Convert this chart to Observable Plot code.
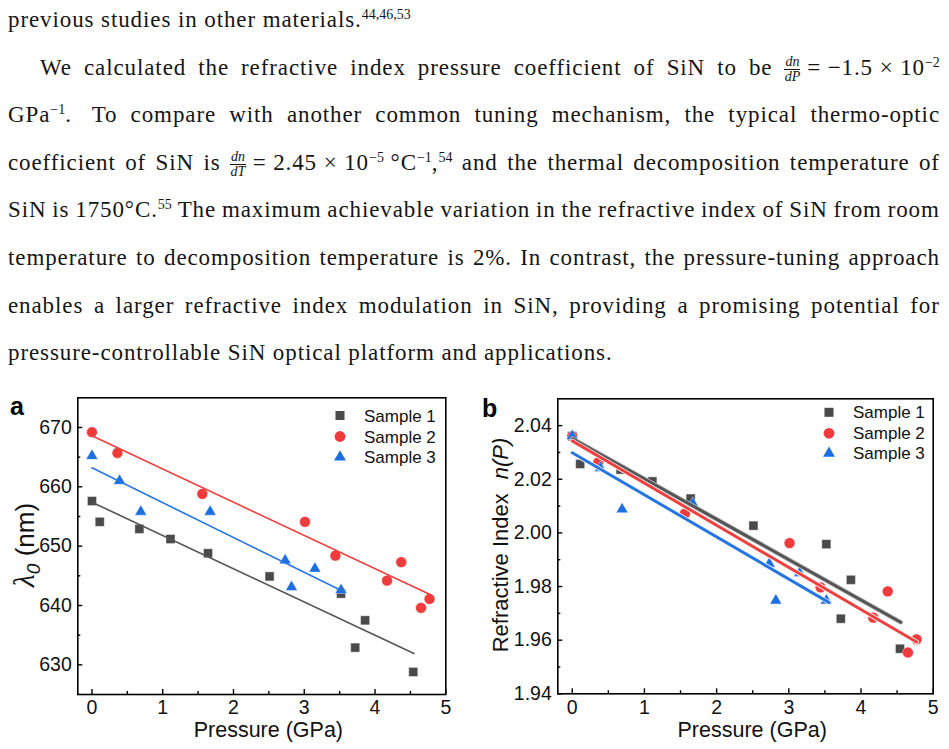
<!DOCTYPE html>
<html><head><meta charset="utf-8">
<script src="https://cdn.jsdelivr.net/npm/d3@7"></script>
<script src="https://cdn.jsdelivr.net/npm/@observablehq/plot@0.6"></script>
<style>
html,body{margin:0;padding:0;background:#fff;width:949px;height:749px;overflow:hidden;}
#text{position:absolute;left:8px;top:-4px;width:932px;font-family:"Liberation Serif","Times New Roman",serif;font-size:23px;color:#151515;letter-spacing:0.9px}
.ln{height:47.6px;line-height:47.6px;white-space:nowrap}
.j{display:flex;justify-content:space-between;align-items:center}
sup{font-size:14px;vertical-align:0.55em;line-height:0;letter-spacing:0}
.fr{display:inline-flex;flex-direction:column;vertical-align:middle;font-style:italic;font-size:14px;line-height:14px;text-align:center;letter-spacing:0}
.nu{border-bottom:1px solid #151515;padding:0 1px}
.panel{position:absolute;top:370px}
</style></head>
<body>
<div id="text"></div>
<div id="pa" class="panel" style="left:0px"></div>
<div id="pb" class="panel" style="left:470px"></div>
<script>
// ---------- data ----------
const series = ["Sample 1", "Sample 2", "Sample 3"];
const markColors = ["#4a4a4a", "#ef3b3b", "#1c6fe0"];
const lineColors = ["#555555", "#ef4040", "#2676e2"];
const symbols = ["square", "circle", "triangle"];
const radii = [5.1, 5.4, 4.4];

const xTicks = [0, 1, 2, 3, 4, 5];
const xMinor = [0.5, 1.5, 2.5, 3.5, 4.5];
const aYTicks = [630, 640, 650, 660, 670];
const aYMinor = [635, 645, 655, 665];
const bYTicks = [1.94, 1.96, 1.98, 2.00, 2.02, 2.04];
const bYMinor = [1.95, 1.97, 1.99, 2.01, 2.03];

// pressure (GPa)
const s1P = [0, 0.11, 0.67, 1.11, 1.64, 2.51, 3.52, 3.72, 3.86, 4.54];
const s2P = [0, 0.36, 1.56, 3.01, 3.44, 4.17, 4.37, 4.65, 4.77];
const s3P = [0, 0.39, 0.69, 1.67, 2.73, 2.82, 3.15, 3.52];
// panel a: resonance wavelength (nm)
const s1L = [657.6, 654.1, 652.9, 651.2, 648.8, 644.9, 642.0, 632.9, 637.5, 628.8];
const s2L = [669.2, 665.7, 658.8, 654.1, 648.4, 644.2, 647.3, 639.6, 641.1];
const s3L = [665.2, 661.0, 655.8, 655.8, 647.6, 643.1, 646.2, 642.6];
// panel b: refractive index
const s1N = [2.0361, 2.0257, 2.0236, 2.0192, 2.0128, 2.0027, 1.9958, 1.9680, 1.9825, 1.9568];
const s2N = [2.0360, 2.0263, 2.0072, 1.9962, 1.9797, 1.9684, 1.9782, 1.9554, 1.9603];
const s3N = [2.0361, 2.0242, 2.0088, 2.0109, 1.9885, 1.9748, 1.9850, 1.9748];
// linear fit end points
const fitP = [[0, 4.55], [0, 4.77], [0, 3.56]];
const fitA = [[657.4, 631.9], [668.6, 641.9], [663.2, 642.3]];
const fitB = [[2.0352, 1.9667], [2.0343, 1.9593], [2.0299, 1.9740]];

// ---------- paragraph ----------
const FR1 = '<span class="fr"><span class="nu">dn</span><span>dP</span></span>';
const FR2 = '<span class="fr"><span class="nu">dn</span><span>dT</span></span>';
const lines = [
  {t: "previous studies in other materials.<sup>44,46,53</sup>", j: false},
  {t: "We calculated the refractive index pressure coefficient of SiN to be FR1~=~−1.5~×~10<sup>−2</sup>", j: true, indent: 32},
  {t: "GPa<sup>−1</sup>.~ To compare with another common tuning mechanism, the typical thermo-optic", j: true},
  {t: "coefficient of SiN is FR2~=~2.45~×~10<sup>−5</sup>~°C<sup>−1</sup>,<sup>54</sup> and the thermal decomposition temperature of", j: true},
  {t: "SiN is 1750°C.<sup>55</sup> The maximum achievable variation in the refractive index of SiN from room", j: true},
  {t: "temperature to decomposition temperature is 2%. In contrast, the pressure-tuning approach", j: true},
  {t: "enables a larger refractive index modulation in SiN, providing a promising potential for", j: true},
  {t: "pressure-controllable SiN optical platform and applications.", j: false}
];
const textDiv = document.getElementById("text");
for (const l of lines) {
  const d = document.createElement("div");
  d.className = "ln" + (l.j ? " j" : "");
  if (l.indent) d.style.paddingLeft = l.indent + "px";
  if (l.j) {
    d.innerHTML = l.t.split(" ").map(w => "<span>" + w.replace("FR1", FR1).replace("FR2", FR2).replace(/~/g, "&nbsp;") + "</span>").join("");
  } else d.innerHTML = l.t;
  textDiv.appendChild(d);
}

// ---------- charts ----------
const sans = "'Liberation Sans', Arial, Helvetica, sans-serif";
function rows(P, V) { return P.map((p, i) => ({p, v: V[i]})); }
function fitRows(i, F) { return [{p: fitP[i][0], v: F[i][0]}, {p: fitP[i][1], v: F[i][1]}]; }

function panel(c) {
  const innerW = c.width - c.ml - c.mr, innerH = c.height - c.mt - c.mb;
  const marks = [
    Plot.axisX({ticks: xTicks, tickSize: 0, tickPadding: 6, label: null, tickFormat: d3.format("d")}),
    Plot.axisY({ticks: c.yTicks, tickSize: 0, tickPadding: 6, label: null, tickFormat: c.fmt}),
    Plot.tickX(xTicks, {x: d => d, insetTop: innerH - 5, stroke: "#000", strokeWidth: 1.4}),
    Plot.tickX(xMinor, {x: d => d, insetTop: innerH - 3, stroke: "#000", strokeWidth: 1.4}),
    Plot.tickY(c.yTicks, {y: d => d, insetRight: innerW - 5, stroke: "#000", strokeWidth: 1.4}),
    Plot.tickY(c.yMinor, {y: d => d, insetRight: innerW - 3, stroke: "#000", strokeWidth: 1.4})
  ];
  for (let i = 0; i < 3; i++) {
    marks.push(Plot.dot(c.data[i], {x: "p", y: "v", symbol: symbols[i], r: radii[i], fill: markColors[i], stroke: "white", strokeWidth: 0.4}));
  }
  for (let i = 0; i < 3; i++) {
    if (c.halo) marks.push(Plot.line(fitRows(i, c.fit), {x: "p", y: "v", stroke: i === 0 ? "#bbbbbb" : "white", strokeWidth: c.lw + 1.6}));
    marks.push(Plot.line(fitRows(i, c.fit), {x: "p", y: "v", stroke: lineColors[i], strokeWidth: c.lw}));
  }
  marks.push(Plot.frame({stroke: "#000", strokeWidth: 1.6}));
  const svgNode = Plot.plot({
    width: c.width, height: c.height,
    marginLeft: c.ml, marginRight: c.mr, marginTop: c.mt, marginBottom: c.mb,
    x: {domain: [-0.2, 5]},
    y: {domain: c.yDomain},
    style: {fontFamily: sans, fontSize: "19.5px", color: "#111", background: "transparent", overflow: "visible"},
    marks
  });
  const svg = d3.select(svgNode);
  // panel letter
  svg.append("text").attr("x", c.letterX).attr("y", c.letterY).attr("text-anchor", "start").attr("font-family", sans)
    .attr("font-weight", "bold").attr("font-size", 25).attr("fill", "#000").text(c.letter);
  // x label
  svg.append("text").attr("x", c.ml + innerW * (0.2 + 2.5) / 5.2).attr("y", 367).attr("text-anchor", "middle")
    .attr("font-family", sans).attr("font-size", 21.5).attr("fill", "#111").text("Pressure (GPa)");
  // y label
  c.yLabel(svg);
  // legend
  for (let i = 0; i < 3; i++) {
    const y = c.legY[i];
    const sz = Math.PI * radii[i] * radii[i];
    const type = [d3.symbolSquare, d3.symbolCircle, d3.symbolTriangle][i];
    svg.append("path").attr("d", d3.symbol(type, sz)()).attr("transform", `translate(${c.legX},${y})`)
      .attr("fill", markColors[i]);
    svg.append("text").attr("x", c.legTX).attr("y", y + 6).attr("text-anchor", "start").attr("font-family", sans).attr("font-size", 17)
      .attr("fill", "#111").text(series[i]);
  }
  return svgNode;
}

const pa = panel({
  width: 470, height: 379, ml: 77.3, mr: 24.7, mt: 27.3, mb: 55,
  yDomain: [625, 675], yTicks: aYTicks, yMinor: aYMinor, fmt: d3.format("d"),
  data: [rows(s1P, s1L), rows(s2P, s2L), rows(s3P, s3L)], fit: fitA, lw: 1.6, halo: false,
  letter: "a", letterX: 10, letterY: 45,
  legX: 340, legTX: 364, legY: [45.5, 66.5, 87],
  yLabel: svg => {
    const t = svg.append("text").attr("transform", "translate(34,175) rotate(-90)").attr("text-anchor", "middle")
      .attr("font-family", sans).attr("font-size", 26).attr("fill", "#111");
    t.append("tspan").attr("font-family", "'Liberation Serif', serif").attr("font-style", "italic").attr("font-size", 30).text("λ");
    t.append("tspan").attr("font-style", "italic").attr("font-size", 19).attr("dy", 6).text("0");
    t.append("tspan").attr("dy", -6).text(" (nm)");
  }
});
document.getElementById("pa").appendChild(pa);

const pb = panel({
  width: 479, height: 379, ml: 87.3, mr: 16.3, mt: 28.3, mb: 55.7,
  yDomain: [1.94, 2.05], yTicks: bYTicks, yMinor: bYMinor, fmt: d3.format(".2f"),
  data: [rows(s1P, s1N), rows(s2P, s2N), rows(s3P, s3N)], fit: fitB, lw: 3, halo: true,
  letter: "b", letterX: 12, letterY: 47,
  legX: 359, legTX: 383, legY: [42.3, 63.3, 83.3],
  yLabel: svg => {
    const t = svg.append("text").attr("transform", "translate(38,175) rotate(-90)").attr("text-anchor", "middle")
      .attr("font-family", sans).attr("font-size", 22).attr("fill", "#111");
    t.append("tspan").text("Refractive Index");
    t.append("tspan").attr("dx", 14).attr("font-style", "italic").text("n(P)");
  }
});
document.getElementById("pb").appendChild(pb);
</script>
</body></html>
